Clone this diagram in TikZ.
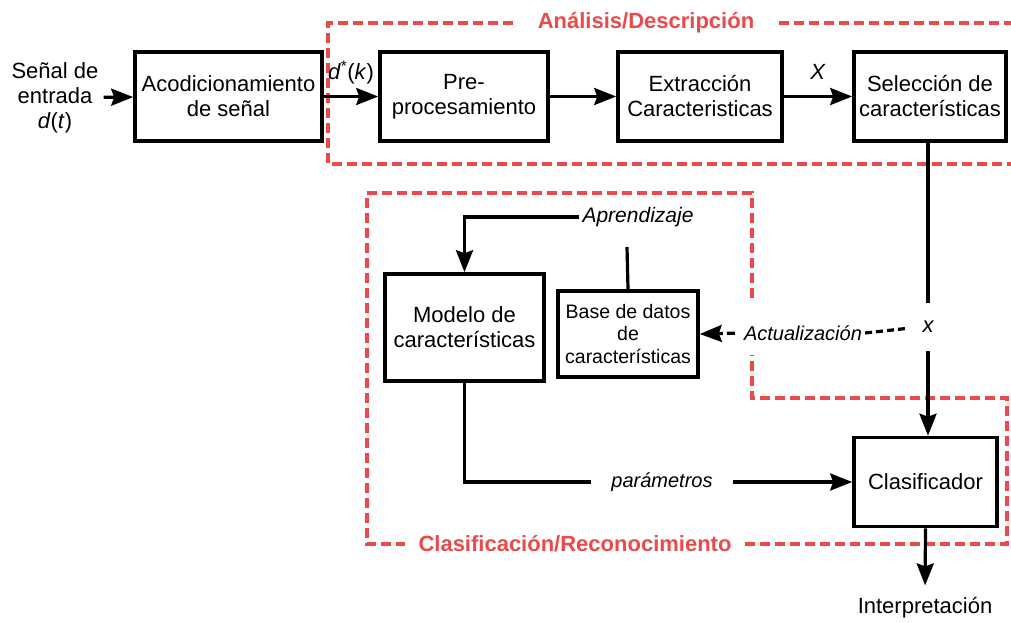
\documentclass[tikz,border=0pt]{standalone}
\usepackage{fontspec}
\setmainfont{Liberation Sans}
\usetikzlibrary{arrows.meta}

\definecolor{rojogrupo}{RGB}{234,74,74}

\begin{document}
\begin{tikzpicture}[x = 1pt, y = -1pt, > = {Stealth[length = 22pt, width = 17pt, inset = 3pt]},
	texto/.style = {font = \fontsize{22}{25}\selectfont, inner sep = 2pt, align = center},
	etiqueta/.style = {font = \fontsize{20}{24}\selectfont\itshape, inner sep = 3pt},
	bloque/.style = {texto, draw, line width = 3.6pt, minimum height = 89pt},
	grupo/.style = {draw = rojogrupo, line width = 3.2pt, dash pattern = on 10pt off 5pt},
	titulo/.style = {font = \fontsize{22}{25}\selectfont\bfseries, text = rojogrupo},
	flujo/.style = {line width = 3.2pt}]

	\useasboundingbox (0, 0) rectangle (1011, 622);

	% Group titles

	\node [titulo, inner xsep = 25pt] (analisis) at (646, 23) {Análisis/Descripción};
	\node [titulo, inner xsep = 13pt] (clasrec) at (575, 544) {Clasificación/Reconocimiento};

	% Group outlines

	\draw [grupo] (analisis.west) -- (328, 23) -- (328, 164) -- (1011, 164);
	\draw [grupo] (analisis.east) -- (1011, 23);
	\draw [grupo] (752, 298) -- (752, 193) -- (367, 193) -- (367, 544) -- (clasrec.west);
	\draw [grupo] (clasrec.east) -- (1007, 544) -- (1007, 398) -- (752, 398) -- (752, 355);

	% Blocks

	\node [texto] (entrada) at (55, 97.5) {Señal de\\entrada\\\textit{d}(\textit{t})};
	\node [bloque, minimum width = 187pt] (acond) at (228.5, 96.5) {Acodicionamiento\\de señal};
	\node [bloque, minimum width = 168pt] (preproc) at (464, 96.5) {Pre-\\procesamiento};
	\node [bloque, minimum width = 164pt] (extrac) at (700, 96.5) {Extracción\\Caracteristicas};
	\node [bloque, minimum width = 152pt] (selec) at (930, 96.5) {Selección de\\características};
	\node [bloque, minimum width = 159pt, minimum height = 107pt] (modelo) at (464.5, 327.5) {Modelo de\\características};
	\node [bloque, minimum width = 140pt, minimum height = 86pt, font = \fontsize{19.5}{22.5}\selectfont] (base) at (628, 334) {Base de datos\\de\\características};
	\node [bloque, minimum width = 143pt] (clasif) at (925.5, 482) {Clasificador};
	\node [texto] (interp) at (925, 608) {Interpretación};

	% Flow labels

	\node [etiqueta, font = \fontsize{21}{24}\selectfont\itshape] (aprend) at (638, 217) {Aprendizaje};
	\node [etiqueta] (actual) at (803, 333) {Actualización};
	\node [etiqueta, inner xsep = 20pt] (param) at (662, 482) {parámetros};
	\node [etiqueta, font = \fontsize{22}{25}\selectfont\itshape, minimum height = 48pt] (xsel) at (928, 327) {x};
	\coordinate (basearriba) at (627, 247);

	% Upper chain

	\draw [flujo, ->, shorten <= 3pt] (entrada) -- (acond);
	\draw [flujo, ->] (acond) -- node [texto, above = 9pt] {\textit{d}\textsuperscript{*}(\textit{k})} (preproc);
	\draw [flujo, ->] (preproc) -- (extrac);
	\draw [flujo, ->] (extrac) -- node [texto, above = 13pt] {\textit{X}} (selec);

	% Selected features to classifier

	\draw [flujo] (xsel.north |- selec.south) -- (xsel.north);
	\draw [flujo, ->] (xsel.south) -- (xsel.south |- clasif.north);
	\draw [flujo, dash pattern = on 7pt off 4pt, shorten >= 12pt] (actual.east) -- (xsel.west);
	\draw [flujo, dash pattern = on 8pt off 4pt, ->, shorten <= 6pt] (actual.west) -- (base.east);

	% Learning and parameters

	\draw [flujo, ->] (aprend.west) -| (modelo.north);
	\draw [flujo] (base.north) -- (basearriba);
	\draw [flujo] (modelo.south) |- (param.west);
	\draw [flujo, ->] (param.east) -- (clasif.west);
	\draw [flujo, ->, shorten >= 10pt] (clasif.south) -- (interp.north);

\end{tikzpicture}
\end{document}
